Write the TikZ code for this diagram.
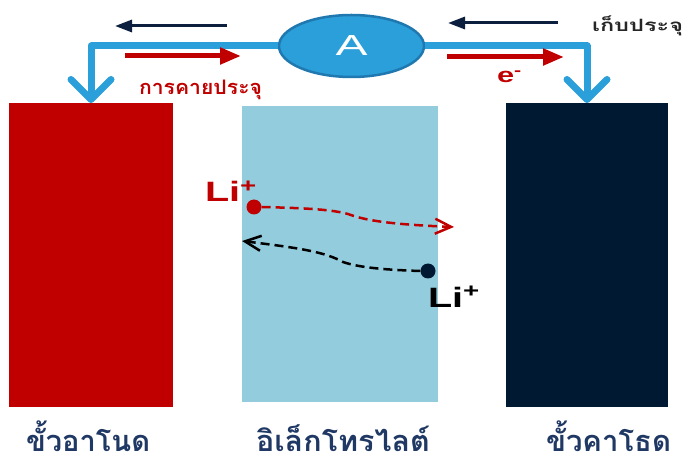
\documentclass[tikz,border=0pt]{standalone}
\usepackage{fontspec}
\setmainfont{Liberation Sans}
\newfontfamily\thaifont[Script=Thai]{Loma}
\usetikzlibrary{arrows.meta,shapes.geometric}
\newcommand{\fitw}[2]{\resizebox{#1}{\height}{#2}}
\definecolor{anodered}{HTML}{C00000}
\definecolor{elecblue}{HTML}{93CDDD}
\definecolor{cathnavy}{HTML}{001933}
\definecolor{wireblue}{HTML}{2B9FD9}
\definecolor{ambord}{HTML}{1F78B0}
\definecolor{arrnavy}{HTML}{0D1F3F}
\definecolor{labnavy}{HTML}{1F3864}
\definecolor{topgray}{HTML}{262626}
\begin{document}
\begin{tikzpicture}[x=1pt,y=-1pt,
  slab/.style={inner sep=0pt, outer sep=0pt, anchor=north west, draw=none},
  wire/.style={wireblue, line width=7pt, line join=round},
  wiretip/.style={-{Straight Barb[length=20pt,width=40pt,round]}},
  navyarr/.style={arrnavy, line width=3pt, -{Triangle[length=17pt,width=12pt]}},
  redarr/.style={anodered, line width=5pt, -{Triangle[length=21pt,width=16pt]}},
  iondash/.style={line width=2.5pt, dash pattern=on 9pt off 5pt, -{Straight Barb[length=16pt,width=15pt]}},
  ion/.style={circle, inner sep=0pt, minimum size=15pt},
  txt/.style={inner sep=0pt, outer sep=0pt, anchor=base west},
  bottomlab/.style={txt, text=labnavy, font=\thaifont\bfseries\fontsize{29}{29}\selectfont}
]
\useasboundingbox (0,0) rectangle (686,457);
\fill[white] (0,0) rectangle (686,457);

% electrodes and electrolyte
\node[slab, fill=anodered, minimum width=164pt, minimum height=304pt] (anode) at (9,103) {};
\node[slab, fill=elecblue, minimum width=196pt, minimum height=296pt] (elec) at (242,106) {};
\node[slab, fill=cathnavy, minimum width=162pt, minimum height=304pt] (cathode) at (506,103) {};

% ammeter
\node[ellipse, fill=wireblue, draw=ambord, line width=2.5pt, minimum width=145pt, minimum height=62pt, inner sep=0pt,
      text=white, font=\fontsize{29}{29}\selectfont] (amm) at (351.5,46) {\fitw{32pt}{A}};

% wires
\draw[wire, wiretip] (amm.west) -| (anode.north);
\draw[wire, wiretip] (amm.east) -| (cathode.north);

% top arrows
\coordinate (nlt) at (227,26); \coordinate (nlh) at (115,26);
\coordinate (nrt) at (558,23); \coordinate (nrh) at (448,23);
\coordinate (rlt) at (125,56); \coordinate (rlh) at (241,56);
\coordinate (rrt) at (447,57); \coordinate (rrh) at (564,57);
\draw[navyarr] (nlt) -- (nlh);
\draw[navyarr] (nrt) -- (nrh);
\draw[redarr] (rlt) -- (rlh);
\draw[redarr] (rrt) -- (rrh);

% top texts
\node[txt, text=anodered, font=\thaifont\bfseries\fontsize{20}{20}\selectfont] (discharge) at (139,95) {\fitw{123pt}{การคายประจุ}};
\node[txt, text=topgray, font=\thaifont\bfseries\fontsize{17}{17}\selectfont] (charge) at (592,32) {\fitw{91pt}{เก็บประจุ}};
\node[txt, text=anodered, font=\bfseries\fontsize{21}{21}\selectfont] (elab) at (497,83) {\fitw{25pt}{e\textsuperscript{-}}};

% ions
\node[ion, fill=anodered] (li1) at (254,207) {};
\node[ion, fill=cathnavy] (li2) at (428,271) {};
\node[txt, text=anodered, font=\bfseries\fontsize{28}{28}\selectfont] (li1lab) at (205,202) {\fitw{52pt}{Li\textsuperscript{+}}};
\node[txt, text=black, font=\bfseries\fontsize{28}{28}\selectfont] (li2lab) at (428,307) {\fitw{52pt}{Li\textsuperscript{+}}};

\coordinate (redend) at (454,227);
\coordinate (blkend) at (242,241);
\draw[iondash, anodered] (li1.east) .. controls (300,208) and (330,209) .. (348,214)
   .. controls (362,219) and (380,224) .. (redend);
\draw[iondash, black] (li2.west) .. controls (390,270) and (360,268) .. (343,262)
   .. controls (325,252) and (300,248) .. (blkend);

% bottom labels
\node[bottomlab] (anlab) at (26,451) {\fitw{124pt}{ขั้วอาโนด}};
\node[bottomlab] (ellab) at (256,451) {\fitw{174pt}{อิเล็กโทรไลต์}};
\node[bottomlab] (calab) at (546,451) {\fitw{125pt}{ขั้วคาโธด}};
\end{tikzpicture}
\end{document}
